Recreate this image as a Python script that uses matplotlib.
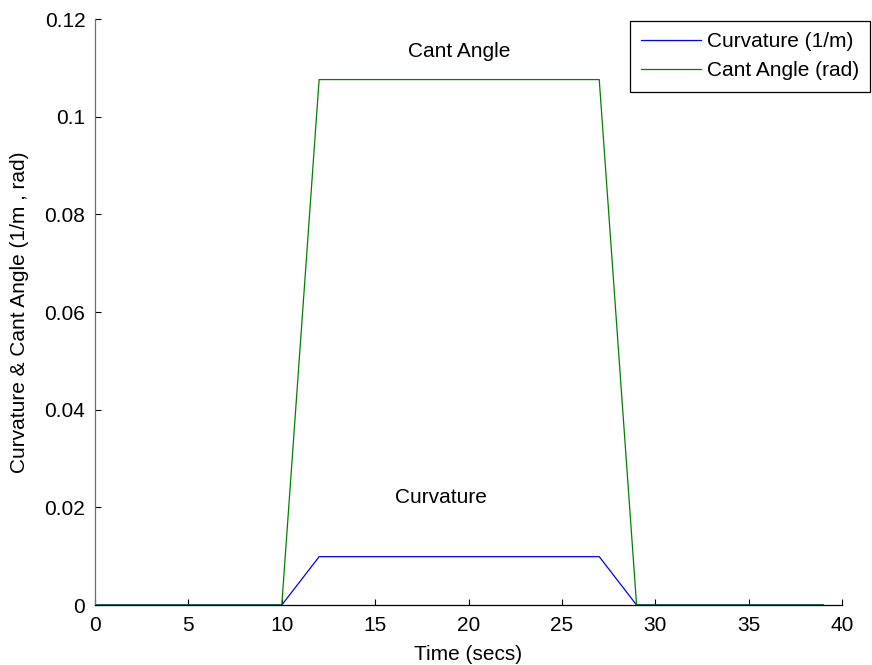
import matplotlib.pyplot as plt
from matplotlib.ticker import FormatStrFormatter

# breakpoints of the transition profile
t = [0, 10, 12, 27, 29, 39]
curvature = [0, 0, 0.0099, 0.0099, 0, 0]      # 1/m
cant_angle = [0, 0, 0.1076, 0.1076, 0, 0]     # rad

plt.rcParams['font.family'] = ['Liberation Sans', 'DejaVu Sans']
plt.rcParams['font.size'] = 15

fig = plt.figure(figsize=(8.72, 6.65), dpi=100)
ax = fig.add_axes([0.109, 0.0902, 0.8566, 0.8812])

ax.plot(t, curvature, color='#0000ff', lw=0.9, label='Curvature (1/m)')
ax.plot(t, cant_angle, color='#008000', lw=0.9, label='Cant Angle (rad)')

ax.text(19.5, 0.1133, 'Cant Angle', ha='center', va='center')
ax.text(18.5, 0.0221, 'Curvature', ha='center', va='center')

ax.set_xlim(0, 40)
ax.set_ylim(0, 0.12)
ax.set_xticks(range(0, 41, 5))
ax.set_yticks([0, 0.02, 0.04, 0.06, 0.08, 0.1, 0.12])
ax.yaxis.set_major_formatter(FormatStrFormatter('%g'))
ax.tick_params(direction='in', length=4, width=0.8)
ax.tick_params(axis='x', pad=8)
ax.tick_params(axis='y', pad=7)

ax.spines['top'].set_visible(False)
ax.spines['right'].set_visible(False)
ax.spines['left'].set_color('#707070')
ax.spines['left'].set_linewidth(0.9)
ax.spines['bottom'].set_linewidth(0.9)

ax.set_xlabel('Time (secs)', labelpad=7)
ax.set_ylabel('Curvature & Cant Angle (1/m , rad)', labelpad=11)

leg = ax.legend(loc='upper right', bbox_to_anchor=(0.998, 0.969),
                bbox_transform=fig.transFigure, borderaxespad=0,
                fancybox=False, framealpha=1, edgecolor='black',
                handlelength=2.9, handletextpad=0.25, borderpad=0.55,
                labelspacing=0.5)
leg.get_frame().set_linewidth(0.9)

fig.savefig('out.png', dpi=100)
